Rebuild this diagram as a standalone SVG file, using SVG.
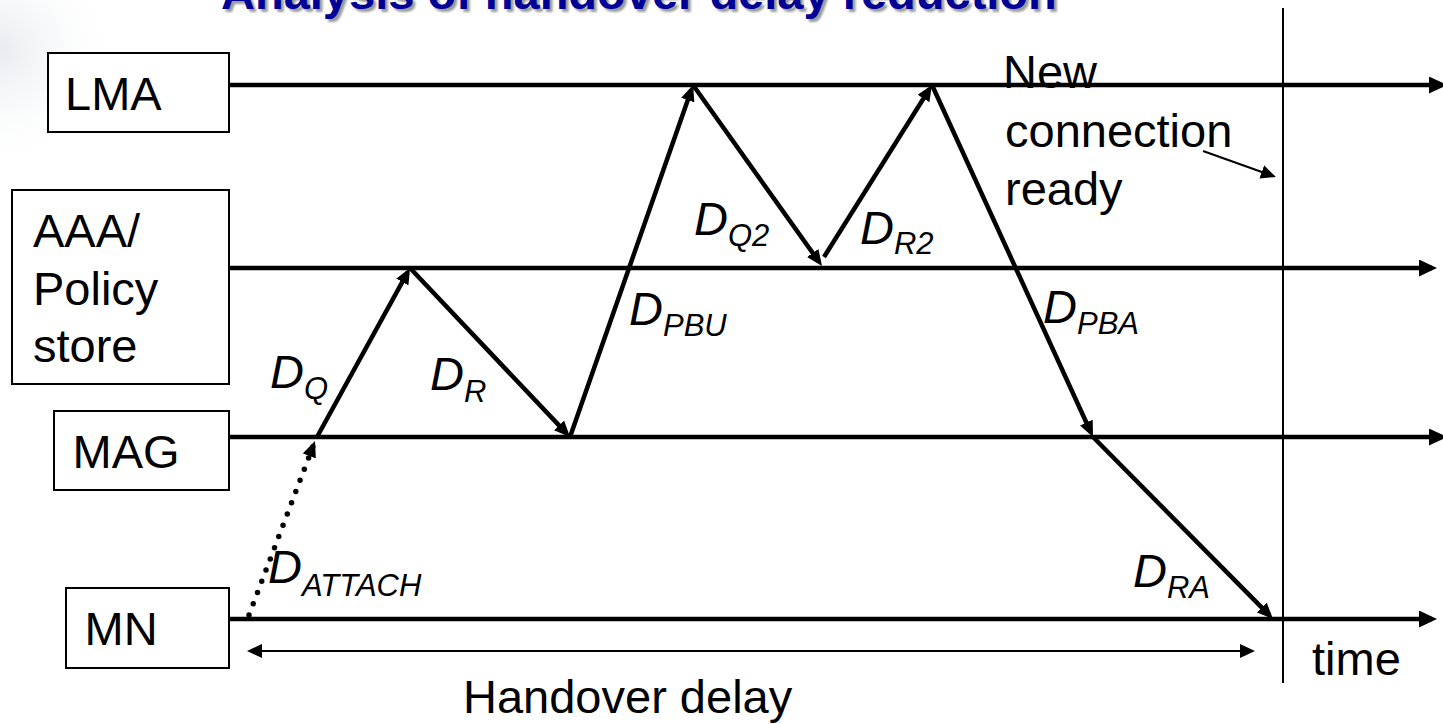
<svg xmlns="http://www.w3.org/2000/svg" width="1443" height="724" viewBox="0 0 1443 724">
  <defs>
    <style>
      .box { fill: #ffffff; stroke: #000000; stroke-width: 2; }
      .lbl { font-family: "Liberation Sans", Arial, sans-serif; font-size: 47px; fill: #000000; }
      .dl { font-family: "Liberation Sans", Arial, sans-serif; font-size: 47px; font-style: italic; fill: #000000; }
      .sub { font-size: 31px; }
      .life { stroke: #000000; stroke-width: 4.5; fill: none; }
      .msg { stroke: #000000; stroke-width: 4.5; fill: none; }
      .thin { stroke: #000000; stroke-width: 2; fill: none; }
      .dot { stroke: #000000; stroke-width: 5.5; fill: none; stroke-linecap: round; stroke-dasharray: 0 12; }
      .title { font-family: "Liberation Sans", Arial, sans-serif; font-size: 47px; font-weight: bold; }
    </style>
    <marker id="ahL" viewBox="0 0 18 17" markerWidth="18" markerHeight="17" refX="13" refY="8.5" orient="auto" markerUnits="userSpaceOnUse">
      <path d="M0,0 L18,8.5 L0,17 z" fill="#000000"/>
    </marker>
    <marker id="ahM" viewBox="0 0 16 14" markerWidth="16" markerHeight="14" refX="11" refY="7" orient="auto" markerUnits="userSpaceOnUse">
      <path d="M0,0 L16,7 L0,14 z" fill="#000000"/>
    </marker>
    <marker id="ahT" viewBox="0 0 15 14" markerWidth="15" markerHeight="14" refX="13" refY="7" orient="auto-start-reverse" markerUnits="userSpaceOnUse">
      <path d="M0,0 L15,7 L0,14 z" fill="#000000"/>
    </marker>
    <radialGradient id="bgL" cx="0" cy="50" r="120" gradientUnits="userSpaceOnUse">
      <stop offset="0" stop-color="#e8ebef" stop-opacity="1"/>
      <stop offset="1" stop-color="#ffffff" stop-opacity="0"/>
    </radialGradient>
    <filter id="sh" x="-5%" y="-50%" width="110%" height="200%">
      <feGaussianBlur stdDeviation="1.2"/>
    </filter>
  </defs>

  <rect x="0" y="0" width="1443" height="724" fill="#ffffff"/>
  <rect x="0" y="0" width="160" height="260" fill="url(#bgL)"/>

  <g id="title">
    <text class="title" x="224" y="12" fill="#9a9a9a" filter="url(#sh)">Analysis of handover delay reduction</text>
    <text class="title" x="221" y="9" fill="#000099">Analysis of handover delay reduction</text>
  </g>

  <g id="lma">
    <rect class="box" x="48" y="53" width="181" height="79"/>
    <text class="lbl" x="65" y="110">LMA</text>
  </g>
  <g id="aaa">
    <rect class="box" x="12" y="190" width="217" height="194"/>
    <text class="lbl" x="33" y="247">AAA/</text>
    <text class="lbl" x="33" y="305">Policy</text>
    <text class="lbl" x="33" y="362">store</text>
  </g>
  <g id="mag">
    <rect class="box" x="54" y="411" width="175" height="79"/>
    <text class="lbl" x="72.5" y="468">MAG</text>
  </g>
  <g id="mn">
    <rect class="box" x="66" y="588" width="163" height="80"/>
    <text class="lbl" x="84.5" y="645">MN</text>
  </g>

  <g id="connectors">
    <line class="life" x1="229" y1="85" x2="1442" y2="85" marker-end="url(#ahL)"/>
    <line class="life" x1="229" y1="268" x2="1432" y2="268" marker-end="url(#ahL)"/>
    <line class="life" x1="229" y1="437" x2="1442" y2="437" marker-end="url(#ahL)"/>
    <line class="life" x1="229" y1="619" x2="1432" y2="619" marker-end="url(#ahL)"/>
    <line class="thin" x1="1283" y1="8" x2="1283" y2="683"/>
    <line class="dot" x1="249" y1="615" x2="313.2" y2="445.7" marker-end="url(#ahM)"/>
    <line class="msg" x1="317" y1="437" x2="407.6" y2="272.4" marker-end="url(#ahM)"/>
    <line class="msg" x1="410" y1="268" x2="566.6" y2="433.4" marker-end="url(#ahM)"/>
    <line class="msg" x1="570" y1="437" x2="691.4" y2="89.7" marker-end="url(#ahM)"/>
    <line class="msg" x1="693" y1="85" x2="819.1" y2="261.9" marker-end="url(#ahM)"/>
    <line class="msg" x1="824" y1="257" x2="929.3" y2="89.2" marker-end="url(#ahM)"/>
    <line class="msg" x1="932" y1="85" x2="1090.9" y2="432.5" marker-end="url(#ahM)"/>
    <line class="msg" x1="1093" y1="437" x2="1269.5" y2="615.4" marker-end="url(#ahM)"/>
    <line class="thin" x1="1203" y1="151" x2="1274" y2="176.3" marker-end="url(#ahT)"/>
    <line class="thin" x1="249" y1="651" x2="1253" y2="651" marker-start="url(#ahT)" marker-end="url(#ahT)"/>
  </g>

  <g id="labels">
    <text class="dl" x="270" y="388">D<tspan class="sub" dy="11">Q</tspan></text>
    <text class="dl" x="430" y="390">D<tspan class="sub" dy="12">R</tspan></text>
    <text class="dl" x="629" y="325">D<tspan class="sub" dy="11">PBU</tspan></text>
    <text class="dl" x="694" y="235">D<tspan class="sub" dy="11">Q2</tspan></text>
    <text class="dl" x="860" y="244">D<tspan class="sub" dy="10">R2</tspan></text>
    <text class="dl" x="1043" y="323">D<tspan class="sub" dy="11">PBA</tspan></text>
    <text class="dl" x="268" y="583">D<tspan class="sub" dy="13">ATTACH</tspan></text>
    <text class="dl" x="1133" y="587">D<tspan class="sub" dy="11">RA</tspan></text>
    <text class="lbl" x="1003" y="88">New</text>
    <text class="lbl" x="1005" y="147">connection</text>
    <text class="lbl" x="1005" y="205">ready</text>
    <text class="lbl" x="1312" y="675">time</text>
    <text class="lbl" x="463" y="713">Handover delay</text>
  </g>
</svg>
